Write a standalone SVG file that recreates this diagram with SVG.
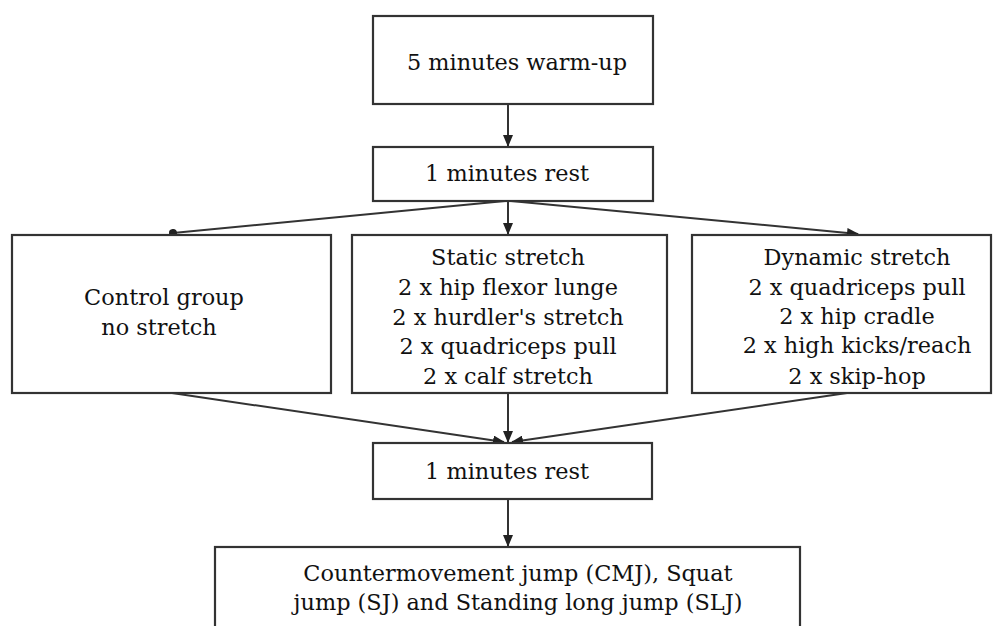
<svg xmlns="http://www.w3.org/2000/svg" width="996" height="626" viewBox="0 0 996 626">
<defs>
<style>
.box{fill:#fff;stroke:#333;stroke-width:2.2}
.t{font-family:"DejaVu Serif","Liberation Serif",serif;font-size:22.4px;fill:#111;text-anchor:middle}
.c{stroke:#333;stroke-width:2;fill:none}
</style>
<marker id="ah" markerWidth="12" markerHeight="10" refX="11" refY="5" orient="auto" markerUnits="userSpaceOnUse">
<path d="M0,0 L12,5 L0,10 Z" fill="#222"/>
</marker>
<marker id="dot" markerWidth="10" markerHeight="10" refX="5" refY="5" orient="auto" markerUnits="userSpaceOnUse">
<circle cx="5" cy="5" r="4" fill="#222"/>
</marker>
</defs>
<rect width="996" height="626" fill="#fff"/>
<g id="connectors">
<line class="c" x1="508" y1="104" x2="508" y2="146" marker-end="url(#ah)"/>
<line class="c" x1="508" y1="201" x2="508" y2="234" marker-end="url(#ah)"/>
<line class="c" x1="505" y1="201" x2="173" y2="233" marker-end="url(#dot)"/>
<line class="c" x1="511" y1="201" x2="858" y2="234" marker-end="url(#ah)"/>
<line class="c" x1="172" y1="393" x2="504" y2="442" marker-end="url(#ah)"/>
<line class="c" x1="508" y1="393" x2="508" y2="442" marker-end="url(#ah)"/>
<line class="c" x1="847" y1="393" x2="512" y2="442" marker-end="url(#ah)"/>
<line class="c" x1="508" y1="499" x2="508" y2="546" marker-end="url(#ah)"/>
</g>
<g id="warmup">
<rect class="box" x="373" y="16" width="280" height="88"/>
<text class="t" x="517" y="70">5 minutes warm-up</text>
</g>
<g id="rest1">
<rect class="box" x="373" y="147" width="280" height="54"/>
<text class="t" x="507" y="181">1 minutes rest</text>
</g>
<g id="control">
<rect class="box" x="12" y="235" width="319" height="158"/>
<text class="t" x="164" y="305">Control group</text>
<text class="t" x="159" y="335">no stretch</text>
</g>
<g id="static">
<rect class="box" x="352" y="235" width="315" height="158"/>
<text class="t" x="508" y="265">Static stretch</text>
<text class="t" x="508" y="295">2 x hip flexor lunge</text>
<text class="t" x="508" y="325">2 x hurdler's stretch</text>
<text class="t" x="508" y="354">2 x quadriceps pull</text>
<text class="t" x="508" y="384">2 x calf stretch</text>
</g>
<g id="dynamic">
<rect class="box" x="692" y="235" width="299" height="158"/>
<text class="t" x="857" y="265">Dynamic stretch</text>
<text class="t" x="857" y="295">2 x quadriceps pull</text>
<text class="t" x="857" y="324">2 x hip cradle</text>
<text class="t" x="857" y="353">2 x high kicks/reach</text>
<text class="t" x="857" y="384">2 x skip-hop</text>
</g>
<g id="rest2">
<rect class="box" x="373" y="443" width="279" height="56"/>
<text class="t" x="507" y="479">1 minutes rest</text>
</g>
<g id="jumps">
<rect class="box" x="215" y="547" width="585" height="95"/>
<text class="t" x="518" y="581">Countermovement jump (CMJ), Squat</text>
<text class="t" x="518" y="610">jump (SJ) and Standing long jump (SLJ)</text>
</g>
</svg>
